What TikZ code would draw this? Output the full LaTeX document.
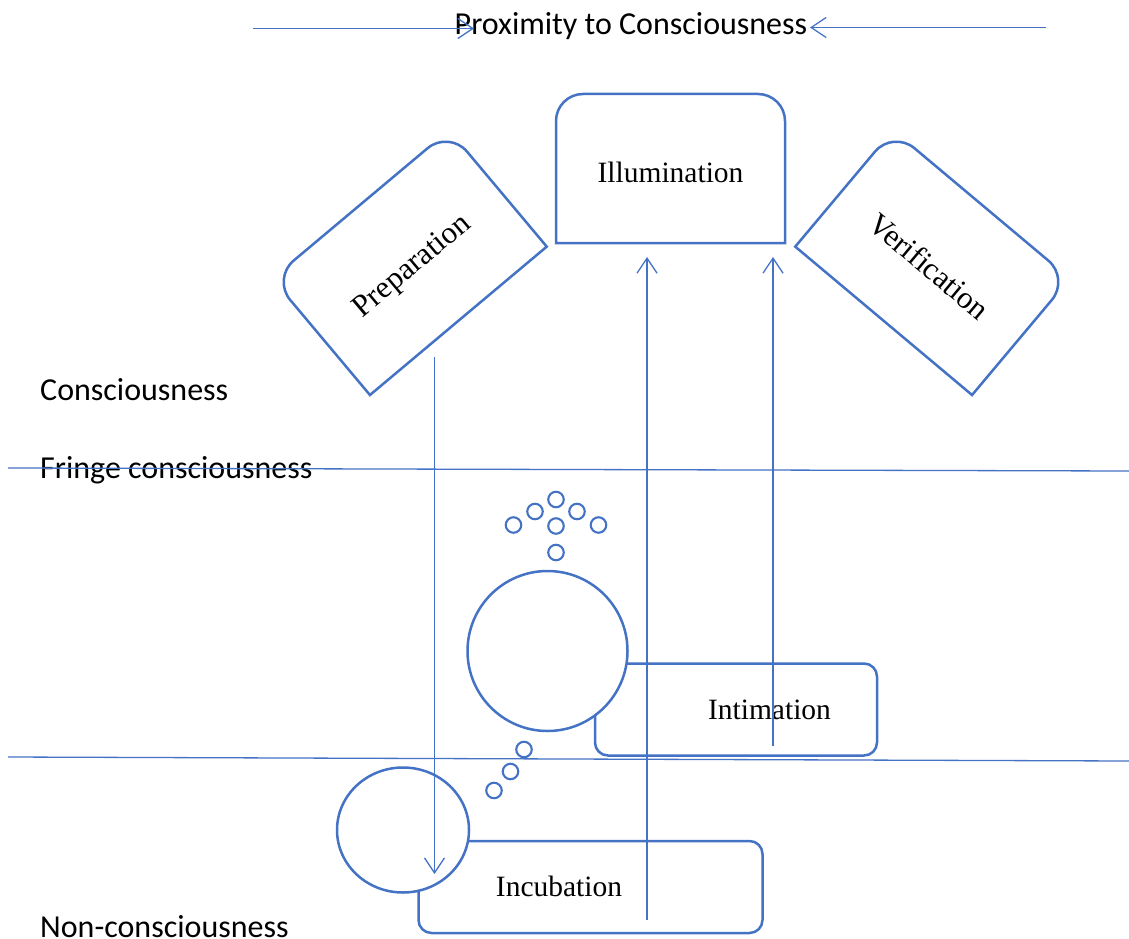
\documentclass[tikz,border=0pt]{standalone}
\usepackage{fontspec}
\setmainfont{Liberation Serif}
\newfontfamily\calfont{Carlito}
\usetikzlibrary{arrows.meta,shapes.geometric}
\definecolor{ob}{HTML}{4472C4}
\tikzset{
  shapeline/.style={draw=ob, line width=2.5pt},
  conn/.style={draw=ob, line width=1.3pt, -{Straight Barb[length=15pt,width=20pt,line width=1.3pt]}},
  layerline/.style={draw=ob, line width=1.3pt},
  lbl/.style={font=\fontsize{29.5}{32}\selectfont, inner sep=0pt},
  rlbl/.style={font=\fontsize{31}{34}\selectfont, inner sep=0pt},
  layer/.style={font=\calfont\fontsize{32}{36}\selectfont, inner sep=0pt, anchor=base west},
  bubble/.style={circle, draw=ob, line width=2.1pt, fill=white, minimum size=15.5pt, inner sep=0pt},
  roundbox/.style={draw=ob, line width=2.5pt, rounded corners=13pt, fill=white, inner sep=0pt},
  bigcirc/.style={circle, draw=ob, line width=2.5pt, fill=white, inner sep=0pt}
}
\begin{document}
\begin{tikzpicture}[x=1pt,y=1pt]
\useasboundingbox (0,0) rectangle (1129,-939);

% title
\node[font=\calfont\fontsize{32}{36}\selectfont, inner sep=0pt, anchor=base] (title) at (631,-35) {Proximity to Consciousness};
\coordinate (tl0) at (253,-28.5);
\coordinate (tl1) at (474,-28.5);
\coordinate (tr0) at (1046,-27.5);
\coordinate (tr1) at (810,-27.5);
\draw[conn] (tl0) -- (tl1);
\draw[conn] (tr0) -- (tr1);

% Illumination
\draw[shapeline] (556,-243) -- (556,-121) arc[start angle=180,end angle=90,radius=27] -- (758,-94) arc[start angle=90,end angle=0,radius=27] -- (785,-243) -- cycle;
\node[lbl] (illum) at (670.5,-172) {Illumination};

% Preparation
\begin{scope}[shift={(409.5,-262.6)}, rotate=40]
\draw[shapeline] (-115.4,-76) -- (-115.4,48) arc[start angle=180,end angle=90,radius=28] -- (87.4,76) arc[start angle=90,end angle=0,radius=28] -- (115.4,-76) -- cycle;
\end{scope}
\node[rlbl, rotate=40] (prep) at (413,-267) {Preparation};

% Verification
\begin{scope}[shift={(932.5,-262.6)}, rotate=-40]
\draw[shapeline] (-115.4,-76) -- (-115.4,48) arc[start angle=180,end angle=90,radius=28] -- (87.4,76) arc[start angle=90,end angle=0,radius=28] -- (115.4,-76) -- cycle;
\end{scope}
\node[rlbl, rotate=-40] (verif) at (929.5,-266) {Verification};

% Layer labels
\node[layer] (lc) at (40,-400) {Consciousness};
\node[layer] (lf) at (40,-478) {Fringe consciousness};
\node[layer] (ln) at (40,-937) {Non-consciousness};

% Intimation
\node[roundbox, minimum width=282pt, minimum height=92pt] (intbox) at (736,-709.5) {};
\node[bigcirc, minimum size=160pt] (intcirc) at (547.5,-651) {};
\node[lbl] (intim) at (769.5,-710) {Intimation};

% bubbles above
\node[bubble] (b1) at (513.5,-525) {};
\node[bubble] (b2) at (535,-511.5) {};
\node[bubble] (b3) at (556,-499.5) {};
\node[bubble] (b4) at (577,-511.5) {};
\node[bubble] (b5) at (598.5,-525) {};
\node[bubble] (b6) at (556,-526) {};
\node[bubble] (b7) at (556,-552.5) {};

% Incubation
\node[roundbox, minimum width=344pt, minimum height=92pt] (incbox) at (590.5,-887) {};
\node[draw=ob, line width=2.5pt, fill=white, ellipse, minimum width=132pt, minimum height=125pt, inner sep=0pt] (inccirc) at (403,-830) {};
\node[lbl] (incub) at (559,-886) {Incubation};

% bubbles between
\node[bubble] (c1) at (524,-749.5) {};
\node[bubble] (c2) at (510.5,-771.5) {};
\node[bubble] (c3) at (494,-790.5) {};

% layer lines
\coordinate (h1a) at (8,-468);
\coordinate (h1b) at (1129,-471);
\coordinate (h2a) at (8,-757);
\coordinate (h2b) at (1129,-761);
\draw[layerline] (h1a) -- (h1b);
\draw[layerline] (h2a) -- (h2b);

% arrows
\coordinate (a1s) at (434.5,-357);
\coordinate (a1e) at (434.5,-874);
\coordinate (a2s) at (647,-920);
\coordinate (a2e) at (647,-257);
\coordinate (a3s) at (773,-746);
\coordinate (a3e) at (773,-257);
\draw[conn] (a1s) -- (a1e);
\draw[conn] (a2s) -- (a2e);
\draw[conn] (a3s) -- (a3e);
\end{tikzpicture}
\end{document}
